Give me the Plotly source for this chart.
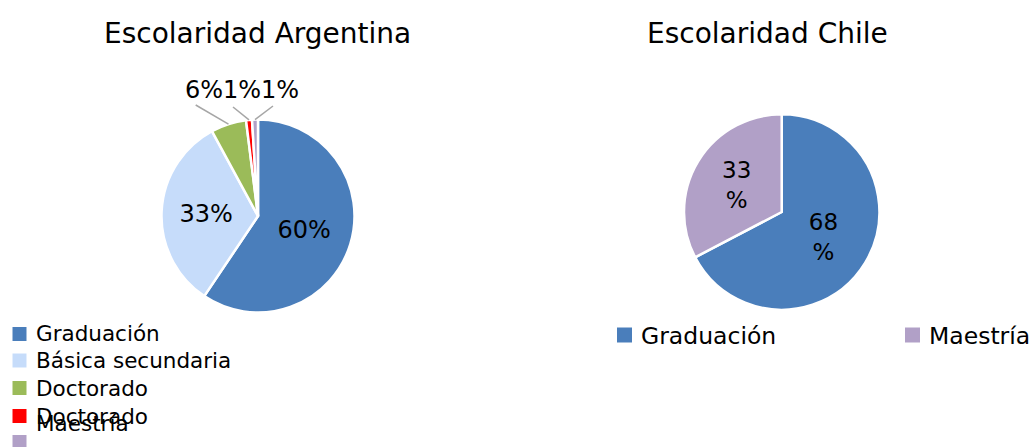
import math
import plotly.graph_objects as go

W, H = 1030, 447
FONT = "DejaVu Sans"

# ---- data ----
arg_labels = ["Graduación", "Básica secundaria", "Doctorado", "Doctorado ", "Maestría"]
arg_legend = ["Graduación", "Básica secundaria", "Doctorado", "Doctorado", "Maestría"]
arg_values = [60, 33, 6, 1, 1]
arg_colors = ["#4A7EBB", "#C6DCFA", "#9BBB59", "#FF0000", "#B1A0C7"]

chi_labels = ["Graduación", "Maestría"]
chi_values = [68, 33]
chi_colors = ["#4A7EBB", "#B1A0C7"]

titles = ["Escolaridad Argentina", "Escolaridad Chile"]


def px(x):
    return x / W


def py(y):
    return 1 - y / H


# pie geometry (pixels)
A_CX, A_CY, A_R = 258, 216, 96.5
C_CX, C_CY, C_R = 781.7, 212, 97.7

fig = go.Figure()
fig.add_trace(go.Pie(
    labels=arg_labels, values=arg_values, sort=False, direction="clockwise", rotation=0,
    marker=dict(colors=arg_colors, line=dict(color="white", width=2.5)),
    texttemplate="%{value}%", textposition=["inside", "inside", "none", "none", "none"],
    insidetextorientation="horizontal",
    textfont=dict(family=FONT, size=24, color="black"),
    domain=dict(x=[px(A_CX - A_R), px(A_CX + A_R)], y=[py(A_CY + A_R), py(A_CY - A_R)]),
    showlegend=False, hoverinfo="skip",
))
fig.add_trace(go.Pie(
    labels=chi_labels, values=chi_values, sort=False, direction="clockwise", rotation=0,
    marker=dict(colors=chi_colors, line=dict(color="white", width=2.5)),
    texttemplate="%{value}<br>%", textposition="inside",
    insidetextorientation="horizontal",
    textfont=dict(family=FONT, size=23, color="black"),
    domain=dict(x=[px(C_CX - C_R), px(C_CX + C_R)], y=[py(C_CY + C_R), py(C_CY - C_R)]),
    showlegend=False, hoverinfo="skip",
))

annotations = []
shapes = []

# titles
for t, x in zip(titles, [257, 767]):
    annotations.append(dict(text=t, x=px(x), y=py(33), xref="paper", yref="paper",
                            showarrow=False, xanchor="center", yanchor="middle",
                            font=dict(family=FONT, size=28, color="black")))

# outside labels with leader lines for the small Argentina slices
total = sum(arg_values)
cum = 0
mids = []
for v in arg_values:
    mids.append((cum + v / 2) / total * 2 * math.pi)
    cum += v
label_pos = {2: (204, 90.5), 3: (242, 90.5), 4: (280, 90.5)}
line_tail = {2: (195.7, 105), 3: (233, 107), 4: (273, 106)}
for i in (2, 3, 4):
    ex = A_CX + A_R * math.sin(mids[i])
    ey = A_CY - A_R * math.cos(mids[i])
    tx, ty = line_tail[i]
    shapes.append(dict(type="line", xref="paper", yref="paper",
                       x0=px(ex), y0=py(ey), x1=px(tx), y1=py(ty),
                       line=dict(color="#A6A6A6", width=1.5)))
    lx, ly = label_pos[i]
    annotations.append(dict(text=f"{arg_values[i]}%", x=px(lx), y=py(ly), xref="paper", yref="paper",
                            showarrow=False, xanchor="center", yanchor="middle",
                            font=dict(family=FONT, size=24, color="black")))

# left legend (manual, reproducing overlapped entries)
sq_y = [334, 360.5, 388, 416, 442]
txt_y = [333, 360.3, 388.3, 416.7, 423]
for i, name in enumerate(arg_legend):
    cy = sq_y[i]
    shapes.append(dict(type="rect", xref="paper", yref="paper",
                       x0=px(12.5), x1=px(26.5), y0=py(cy + 7), y1=py(cy - 7),
                       fillcolor=arg_colors[i], line=dict(width=0)))
    annotations.append(dict(text=name, x=px(34), y=py(txt_y[i]), xref="paper", yref="paper",
                            showarrow=False, xanchor="left", yanchor="middle",
                            font=dict(family=FONT, size=21.5, color="black")))

# right legend
for name, col, sx in zip(chi_labels, chi_colors, [617, 905]):
    shapes.append(dict(type="rect", xref="paper", yref="paper",
                       x0=px(sx), x1=px(sx + 15), y0=py(335 + 7.5), y1=py(335 - 7.5),
                       fillcolor=col, line=dict(width=0)))
    annotations.append(dict(text=name, x=px(sx + 22), y=py(336), xref="paper", yref="paper",
                            showarrow=False, xanchor="left", yanchor="middle",
                            font=dict(family=FONT, size=23.5, color="black")))

fig.update_layout(
    width=W, height=H, margin=dict(l=0, r=0, t=0, b=0),
    paper_bgcolor="white", plot_bgcolor="white",
    annotations=annotations, shapes=shapes,
    font=dict(family=FONT),
)
fig.write_html("out.html", config={"displayModeBar": False},
               post_script="document.body.style.margin='0';document.body.style.overflow='hidden';")
